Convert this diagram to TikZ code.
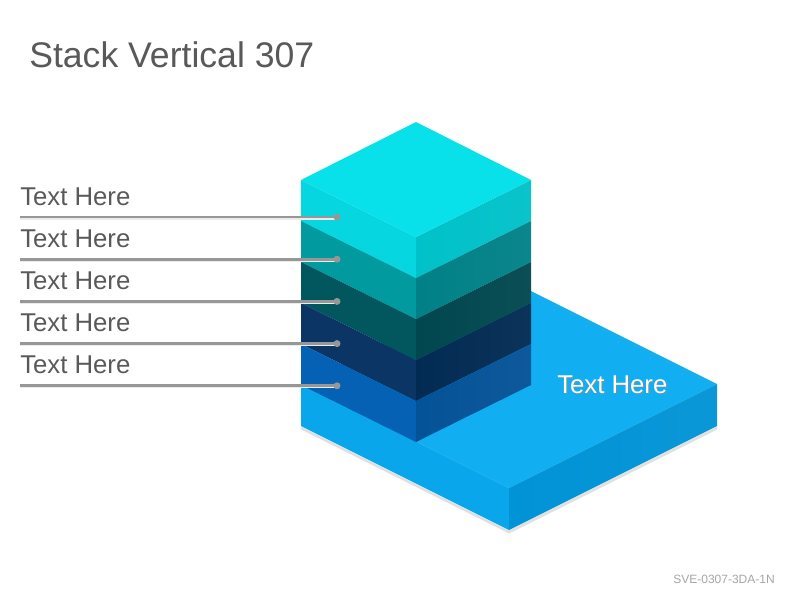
\documentclass[tikz,border=0pt]{standalone}
\usepackage{fontspec}
\setmainfont{Liberation Sans}
\definecolor{gristexte}{HTML}{595959}
\definecolor{grisligne}{HTML}{979797}
\definecolor{grispied}{HTML}{A6A6A6}
\definecolor{dessus}{HTML}{08E1E9}
\definecolor{gaucheA}{HTML}{06D6E0}\definecolor{droiteA}{HTML}{00C1C9}
\definecolor{gaucheB}{HTML}{009A9F}\definecolor{droiteB}{HTML}{008187}
\definecolor{gaucheC}{HTML}{02565E}\definecolor{droiteC}{HTML}{01474F}
\definecolor{gaucheD}{HTML}{0B3564}\definecolor{droiteD}{HTML}{022B53}
\definecolor{gaucheE}{HTML}{0561B4}\definecolor{droiteE}{HTML}{045297}
\definecolor{socledessus}{HTML}{12AEF2}
\definecolor{soclegauche}{HTML}{09A6EC}
\definecolor{socledroite}{HTML}{0093D6}
\begin{document}
\begin{tikzpicture}[x=0.75pt,y=-0.75pt,
	etiquette/.style={anchor=base west,inner sep=0pt,font=\fontsize{19.3pt}{23pt}\selectfont},
	repere/.style={draw=grisligne,line width=2pt}]
	\useasboundingbox[fill=white] (0,0) rectangle (800,600);
	\node[anchor=base west,inner sep=0pt,text=gristexte,font=\fontsize{26.7pt}{31pt}\selectfont] (titre) at (29,67) {Stack Vertical 307};
	\node[anchor=base east,inner sep=0pt,text=grispied,font=\fontsize{9pt}{11pt}\selectfont] (code) at (775,583) {SVE-0307-3DA-1N};
	\draw[black!12,line width=2pt] (301,428)--(509,532)--(717,428);
	\fill[socledessus] (301,384)--(509,488)--(717,384)--(509,280)--cycle;
	\fill[soclegauche] (301,384)--(509,488)--(509,530)--(301,426)--cycle;
	\shade[left color=socledroite,right color=socledroite!96!white] (509,488)--(717,384)--(717,426)--(509,530)--cycle;
	\foreach \i/\g/\d in {0/gaucheA/droiteA,1/gaucheB/droiteB,2/gaucheC/droiteC,3/gaucheD/droiteD,4/gaucheE/droiteE}{
		\fill[\g] (301,180+41*\i)--(416,237+41*\i)--(416,278+41*\i)--(301,221+41*\i)--cycle;
		\shade[left color=\d,right color=\d!96!white] (416,237+41*\i)--(531,180+41*\i)--(531,221+41*\i)--(416,278+41*\i)--cycle;
	}
	\fill[dessus] (416,122)--(531,180)--(416,237)--(301,180)--cycle;
	\node[etiquette,text=black!45,opacity=0.6] (ombre) at (558.5,394.5) {Text Here};
	\node[etiquette,text=white] (socletexte) at (557,393) {Text Here};
	\foreach \i in {0,...,4}{
		\coordinate (debut\i) at (20,217+42.2*\i);
		\coordinate (point\i) at (337,217+42.2*\i);
		\node[etiquette,text=gristexte] (texte\i) at (20,205+42.2*\i) {Text Here};
		\draw[black!8,line width=1.5pt] ([yshift=-1.2pt]debut\i)--([yshift=-1.2pt]point\i);
		\draw[repere] (debut\i)--(point\i);
		\fill[grisligne] (point\i) circle (3.5);
	}
\end{tikzpicture}
\end{document}
